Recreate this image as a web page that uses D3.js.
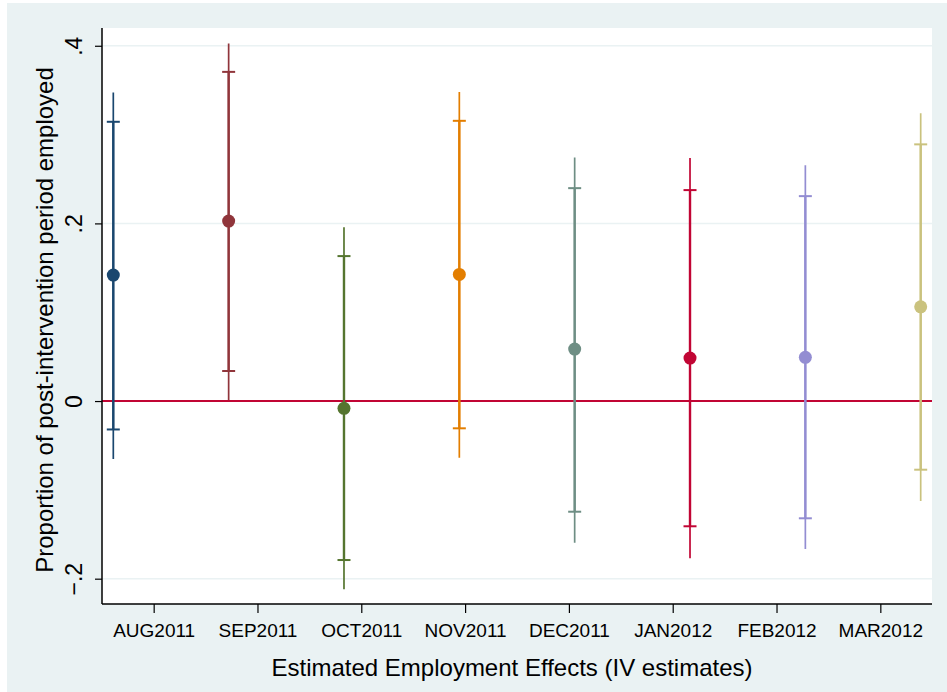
<!DOCTYPE html>
<html>
<head>
<meta charset="utf-8">
<script src="https://cdn.jsdelivr.net/npm/d3@7"></script>
<style>
  html, body { margin: 0; padding: 0; background: #fff; }
  svg { display: block; font-family: "Liberation Sans", Arial, Helvetica, sans-serif; }
</style>
</head>
<body>
<div id="chart"></div>
<script>
// data
var months = ['AUG2011', 'SEP2011', 'OCT2011', 'NOV2011', 'DEC2011', 'JAN2012', 'FEB2012', 'MAR2012'];
var positions = [1, 2, 3, 4, 5, 6, 7, 8];
var tickPositions = [1.35, 2.25, 3.15, 4.05, 4.95, 5.85, 6.75, 7.65];
var estimates = [0.1418, 0.2026, -0.0082, 0.1426, 0.0585, 0.0484, 0.0492, 0.1061];
var ci90Low  = [-0.032, 0.0338, -0.179, -0.0307, -0.1246, -0.141, -0.132, -0.0773];
var ci90High = [0.3144, 0.3706, 0.1632, 0.3155, 0.2397, 0.2375, 0.2307, 0.289];
var ci95Low  = [-0.0653, 0.001, -0.212, -0.0638, -0.1595, -0.177, -0.1666, -0.1126];
var ci95High = [0.3474, 0.4025, 0.1958, 0.348, 0.2743, 0.2735, 0.2656, 0.324];
var yTicks = [-0.2, 0, 0.2, 0.4];
var colors = ['#1a476f', '#90353b', '#55752f', '#e37e00', '#6e8e84', '#c10534', '#938dd2', '#cac27e'];

var W = 947, H = 692;
var margin = {top: 28, right: 15, bottom: 88, left: 102};
var plotW = W - margin.left - margin.right;
var plotH = H - margin.top - margin.bottom;

var svg = d3.select('#chart').append('svg')
  .attr('width', W)
  .attr('height', H);

// outer background
svg.append('rect')
  .attr('x', 7).attr('y', 3)
  .attr('width', W - 7).attr('height', H - 3)
  .attr('fill', '#eaf2f3');

var g = svg.append('g')
  .attr('transform', 'translate(' + margin.left + ',' + margin.top + ')');

g.append('rect')
  .attr('width', plotW).attr('height', plotH)
  .attr('fill', '#fff');

var x = d3.scaleLinear()
  .domain([0.902, 8.098])
  .range([0, plotW]);

var y = d3.scaleLinear()
  .domain([-0.2285, 0.42])
  .range([plotH, 0]);

function fmt(d) {
  if (d === 0) return '0';
  return d3.format('.1f')(d).replace('0.', '.');
}

// grid
g.append('g')
  .selectAll('line')
  .data(yTicks.filter(function(d){ return d !== 0; }))
  .enter().append('line')
  .attr('x1', 0).attr('x2', plotW)
  .attr('y1', function(d){ return y(d); })
  .attr('y2', function(d){ return y(d); })
  .attr('stroke', '#eaf2f3')
  .attr('stroke-width', 1.5);

// reference line at 0
g.append('line')
  .attr('x1', 0).attr('x2', plotW)
  .attr('y1', y(0)).attr('y2', y(0))
  .attr('stroke', '#c10534')
  .attr('stroke-width', 2);

// y axis
var yAxis = g.append('g')
  .call(d3.axisLeft(y).tickValues(yTicks).tickSize(7).tickFormat(fmt));
yAxis.select('.domain').attr('stroke', '#000').attr('stroke-width', 1.5)
  .attr('d', 'M0,0V' + plotH);
yAxis.selectAll('.tick line').attr('stroke', '#000').attr('stroke-width', 1.2);
yAxis.selectAll('.tick text')
  .attr('x', 0).attr('y', 0).attr('dy', 0)
  .attr('transform', 'translate(-20,0) rotate(-90)')
  .attr('text-anchor', 'middle')
  .style('font-size', '23px')
  .style('font-family', '"Liberation Sans", Arial, sans-serif')
  .attr('fill', '#000');

// x axis
var xAxis = g.append('g')
  .attr('transform', 'translate(0,' + plotH + ')')
  .call(d3.axisBottom(x).tickValues(tickPositions).tickSize(9)
    .tickFormat(function(d, i){ return months[i]; }));
xAxis.select('.domain').attr('stroke', '#000').attr('stroke-width', 1.5)
  .attr('d', 'M0,0H' + plotW);
xAxis.selectAll('.tick line').attr('stroke', '#000').attr('stroke-width', 1.2);
xAxis.selectAll('.tick text')
  .attr('y', 0).attr('dy', 0)
  .attr('transform', 'translate(0,33)')
  .style('font-size', '19px')
  .style('font-family', '"Liberation Sans", Arial, sans-serif')
  .attr('fill', '#000');

// axis titles
g.append('text')
  .attr('transform', 'translate(' + (53 - margin.left) + ',' + (320 - margin.top) + ') rotate(-90)')
  .attr('text-anchor', 'middle')
  .style('font-size', '24px')
  .attr('fill', '#000')
  .text('Proportion of post-intervention period employed');

g.append('text')
  .attr('x', 512 - margin.left)
  .attr('y', 676 - margin.top)
  .attr('text-anchor', 'middle')
  .style('font-size', '24px')
  .attr('fill', '#000')
  .text('Estimated Employment Effects (IV estimates)');

// estimates with intervals
var items = positions.map(function(p, i){
  return {p: p, est: estimates[i], lo90: ci90Low[i], hi90: ci90High[i],
          lo95: ci95Low[i], hi95: ci95High[i], color: colors[i]};
});

var marks = g.append('g').selectAll('g')
  .data(items)
  .enter().append('g');

marks.append('line')
  .attr('x1', function(d){ return x(d.p); })
  .attr('x2', function(d){ return x(d.p); })
  .attr('y1', function(d){ return y(d.lo95); })
  .attr('y2', function(d){ return y(d.hi95); })
  .attr('stroke', function(d){ return d.color; })
  .attr('stroke-width', 1.7);

marks.append('line')
  .attr('x1', function(d){ return x(d.p); })
  .attr('x2', function(d){ return x(d.p); })
  .attr('y1', function(d){ return y(d.lo90); })
  .attr('y2', function(d){ return y(d.hi90); })
  .attr('stroke', function(d){ return d.color; })
  .attr('stroke-width', 2.4);

['lo90', 'hi90'].forEach(function(k){
  marks.append('line')
    .attr('x1', function(d){ return x(d.p) - 6.5; })
    .attr('x2', function(d){ return x(d.p) + 6.5; })
    .attr('y1', function(d){ return y(d[k]); })
    .attr('y2', function(d){ return y(d[k]); })
    .attr('stroke', function(d){ return d.color; })
    .attr('stroke-width', 2);
});

marks.append('circle')
  .attr('cx', function(d){ return x(d.p); })
  .attr('cy', function(d){ return y(d.est); })
  .attr('r', 6.5)
  .attr('fill', function(d){ return d.color; });
</script>
</body>
</html>
